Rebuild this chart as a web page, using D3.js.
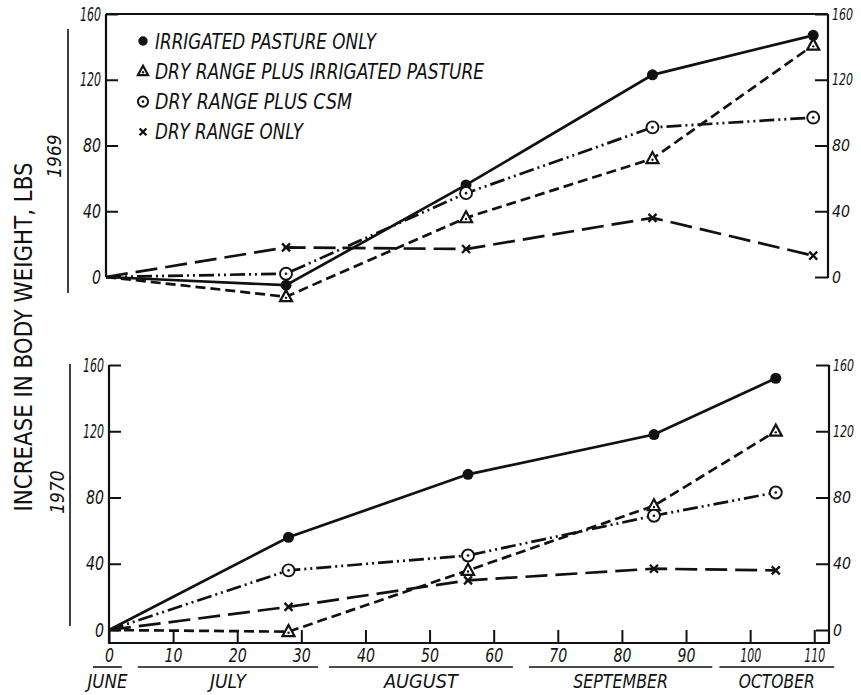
<!DOCTYPE html>
<html>
<head>
<meta charset="utf-8">
<script src="https://cdn.jsdelivr.net/npm/d3@7"></script>
<style>
  body { margin: 0; background: #fff; }
  svg text { font-family: "Liberation Sans Narrow", "DejaVu Sans Condensed", sans-serif; fill: #111; }
</style>
</head>
<body>
<script>
// values: days from start of trial, lbs gained
const days1969 = [0, 28, 56, 85, 110];
const days1970 = [0, 28, 56, 85, 104];

const seriesNames = ["IRRIGATED PASTURE ONLY", "DRY RANGE PLUS IRRIGATED PASTURE", "DRY RANGE PLUS CSM", "DRY RANGE ONLY"];
const seriesMarkers = ["dot", "triangle", "ring", "cross"];

const irrigated1969 = [0, -5, 56, 123, 147];
const dryIrrigated1969 = [0, -12, 36, 72, 141];
const dryCsm1969 = [0, 2, 51, 91, 97];
const dryOnly1969 = [0, 18, 17, 36, 13];

const irrigated1970 = [0, 56, 94, 118, 152];
const dryIrrigated1970 = [0, -1, 36, 75, 120];
const dryCsm1970 = [0, 36, 45, 69, 83];
const dryOnly1970 = [0, 14, 30, 37, 36];

const yTicks = [0, 40, 80, 120, 160];
const xTicks = [0, 10, 20, 30, 40, 50, 60, 70, 80, 90, 100, 110];

const monthNames = ["JUNE", "JULY", "AUGUST", "SEPTEMBER", "OCTOBER"];
const monthStart = [-2.5, 4.5, 34.3, 65.5, 95.2];
const monthEnd = [2.0, 32.6, 63.0, 94.1, 113.1];

const width = 861;
const height = 695;
const dashes = [null, "10,5", "15,4,2,4,2,4", "22,8"];
// the lettering on the original is very narrow, squeeze the numbers a bit
const digitWidth = [0, 9, 18, 21];
const legendWidth = [221, 329, 197, 148];
const monthWidth = [40, 36, 74, 95, 76];

const svg = d3.select("body")
    .append("svg")
    .attr("width", width)
    .attr("height", height)

const xTop = d3.scaleLinear().domain([0, 112.3]).range([106, 828])
const yTop = d3.scaleLinear().domain([0, 160]).range([277, 14])
const xBot = d3.scaleLinear().domain([0, 112.3]).range([109, 829])
const yBot = d3.scaleLinear().domain([0, 160]).range([630, 365])
const xAxisY = 643

function marker(g, type, cx, cy, s) {
    if (type === "dot") {
        g.append("circle").attr("cx", cx).attr("cy", cy).attr("r", 5.5 * s).attr("fill", "#111")
    } else if (type === "triangle") {
        const h = 11 * s
        const w = 12 * s
        g.append("path")
            .attr("d", `M${cx},${cy - h * 0.6}L${cx + w / 2},${cy + h * 0.4}L${cx - w / 2},${cy + h * 0.4}Z`)
            .attr("fill", "#fff").attr("stroke", "#111").attr("stroke-width", 2.2)
        g.append("circle").attr("cx", cx).attr("cy", cy + h * 0.1).attr("r", 1.2).attr("fill", "#111")
    } else if (type === "ring") {
        g.append("circle").attr("cx", cx).attr("cy", cy).attr("r", 6 * s)
            .attr("fill", "#fff").attr("stroke", "#111").attr("stroke-width", 1.9)
        g.append("circle").attr("cx", cx).attr("cy", cy).attr("r", 1.3).attr("fill", "#111")
    } else {
        const r = 4 * s
        g.append("path")
            .attr("d", `M${cx - r},${cy - r}L${cx + r},${cy + r}M${cx + r},${cy - r}L${cx - r},${cy + r}`)
            .attr("stroke", "#111").attr("stroke-width", 2.3).attr("fill", "none")
    }
}

function styleAxis(g, size) {
    g.select(".domain").remove()
    g.selectAll(".tick line").attr("stroke", "#111").attr("stroke-width", 2)
    g.selectAll(".tick text")
        .attr("font-size", size || 19)
        .attr("font-style", "italic")
        .attr("fill", "#111")
        .attr("textLength", d => digitWidth[String(d).length])
        .attr("lengthAdjust", "spacingAndGlyphs")
}

function drawPanel(x, y, days, values, bottom) {
    const g = svg.append("g")
    const left = x.range()[0]
    const right = x.range()[1]
    const top = y(160)
    const base = bottom ? xAxisY : y(0)

    // frame
    g.append("line").attr("x1", left).attr("x2", left).attr("y1", top).attr("y2", base)
        .attr("stroke", "#111").attr("stroke-width", 2.2)
    g.append("line").attr("x1", right).attr("x2", right).attr("y1", top).attr("y2", base + 1)
        .attr("stroke", "#111").attr("stroke-width", 2.2)
    if (!bottom) {
        g.append("line").attr("x1", left).attr("x2", right).attr("y1", top).attr("y2", top)
            .attr("stroke", "#111").attr("stroke-width", 2.2)
    }

    g.append("g").attr("transform", `translate(${left},0)`)
        .call(d3.axisLeft(y).tickValues(yTicks).tickSize(-12).tickSizeOuter(0).tickPadding(5))
        .call(styleAxis)
    // right-hand numbers sit right at the page edge
    g.append("g").attr("transform", `translate(${right},0)`)
        .call(d3.axisRight(y).tickValues(yTicks).tickSize(-13).tickSizeOuter(0).tickPadding(4))
        .call(styleAxis, 16)

    if (bottom) {
        g.append("g").attr("transform", `translate(0,${xAxisY})`)
            .call(d3.axisBottom(x).tickValues(xTicks).tickSize(-13).tickSizeOuter(0).tickPadding(6))
            .call(styleAxis)
        g.append("line").attr("x1", left - 1).attr("x2", right + 1).attr("y1", xAxisY).attr("y2", xAxisY)
            .attr("stroke", "#111").attr("stroke-width", 2.2)
    }

    const line = d3.line().x((d, i) => x(days[i])).y(d => y(d))
    values.forEach((vals, k) => {
        g.append("path")
            .datum(vals)
            .attr("d", line)
            .attr("fill", "none")
            .attr("stroke", "#111")
            .attr("stroke-width", 2.7)
            .attr("stroke-dasharray", dashes[k])
    })
    values.forEach((vals, k) => {
        vals.forEach((v, i) => {
            if (i === 0) return
            marker(g, seriesMarkers[k], x(days[i]), y(v), 1)
        })
    })
}

drawPanel(xTop, yTop, days1969, [irrigated1969, dryIrrigated1969, dryCsm1969, dryOnly1969], false)
drawPanel(xBot, yBot, days1970, [irrigated1970, dryIrrigated1970, dryCsm1970, dryOnly1970], true)

// legend
const legend = svg.append("g")
seriesNames.forEach((name, i) => {
    const cy = 41 + i * 30.3
    marker(legend, seriesMarkers[i], 143, cy, 0.85)
    legend.append("text")
        .attr("x", 155)
        .attr("y", cy)
        .attr("dy", "0.36em")
        .attr("font-size", 21)
        .attr("font-style", "italic")
        .attr("textLength", legendWidth[i])
        .attr("lengthAdjust", "spacingAndGlyphs")
        .text(name)
})

// months under the day axis
monthNames.forEach((m, i) => {
    svg.append("line")
        .attr("x1", xBot(monthStart[i])).attr("x2", xBot(monthEnd[i]))
        .attr("y1", 667).attr("y2", 667)
        .attr("stroke", "#111").attr("stroke-width", 1.6)
    svg.append("text")
        .attr("x", xBot((monthStart[i] + monthEnd[i]) / 2))
        .attr("y", 681)
        .attr("dy", "0.36em")
        .attr("text-anchor", "middle")
        .attr("font-size", 20)
        .attr("font-style", "italic")
        .attr("textLength", monthWidth[i])
        .attr("lengthAdjust", "spacingAndGlyphs")
        .text(m)
})

// year labels and brackets
const years = [["1969", 54, 156, 68, 29, 293], ["1970", 57, 492, 70, 364, 626]]
years.forEach(([t, tx, ty, lx, y1, y2]) => {
    svg.append("text")
        .attr("transform", `translate(${tx},${ty}) rotate(-90)`)
        .attr("dy", "0.36em")
        .attr("text-anchor", "middle")
        .attr("font-size", 19)
        .attr("font-style", "italic")
        .text(t)
    svg.append("line").attr("x1", lx).attr("x2", lx).attr("y1", y1).attr("y2", y2)
        .attr("stroke", "#111").attr("stroke-width", 1.6)
})

svg.append("text")
    .attr("transform", "translate(23,337) rotate(-90)")
    .attr("dy", "0.36em")
    .attr("text-anchor", "middle")
    .attr("font-size", 24)
    .attr("textLength", 349)
    .attr("lengthAdjust", "spacingAndGlyphs")
    .text("INCREASE IN BODY WEIGHT, LBS")
</script>
</body>
</html>
